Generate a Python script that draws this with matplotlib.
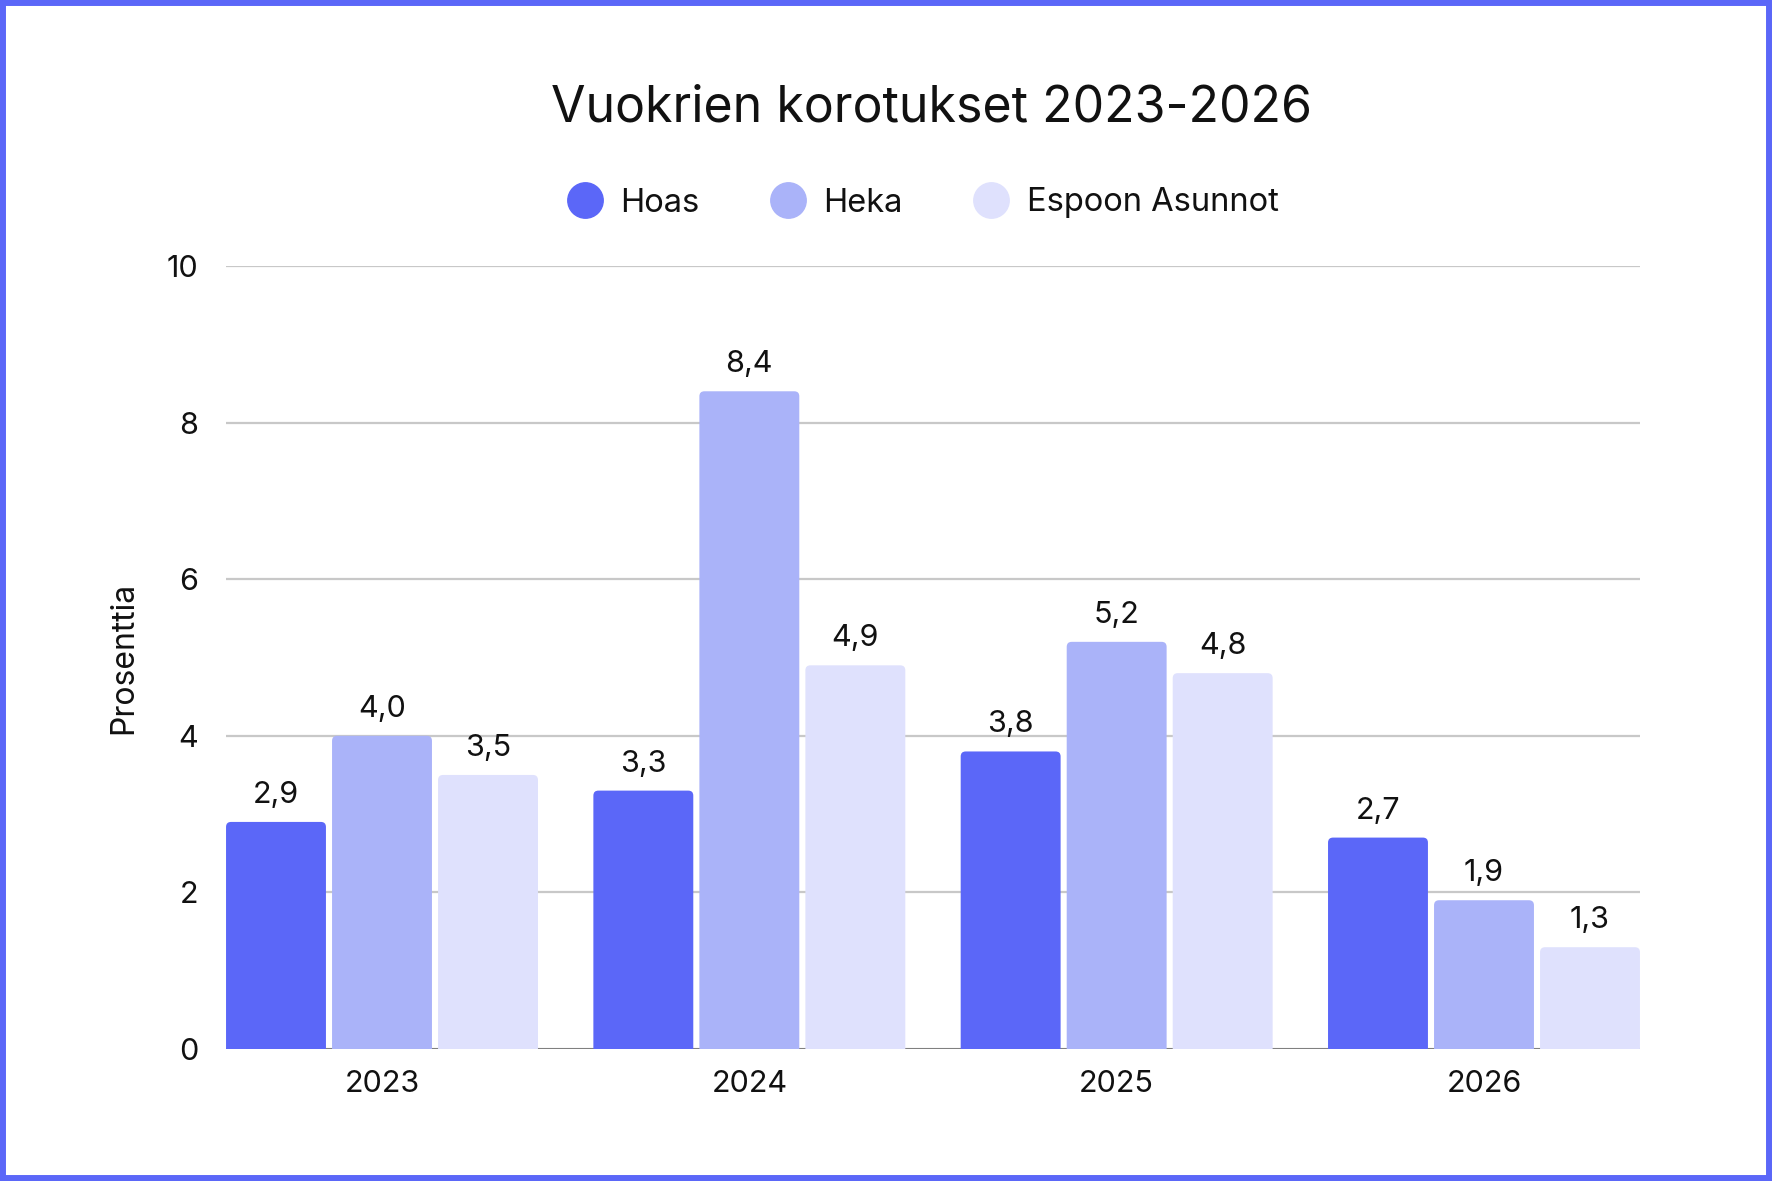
import matplotlib
matplotlib.use("Agg")
import matplotlib.pyplot as plt
from matplotlib.lines import Line2D
from matplotlib.patches import Rectangle, FancyBboxPatch
import numpy as np

plt.rcParams['font.family'] = ['Inter', 'DejaVu Sans']

# ---- data ----
years = ["2023", "2024", "2025", "2026"]
series_names = ["Hoas", "Heka", "Espoon Asunnot"]
hoas = [2.9, 3.3, 3.8, 2.7]
heka = [4.0, 8.4, 5.2, 1.9]
espoon = [3.5, 4.9, 4.8, 1.3]
colors = ["#5B67F8", "#AAB3F9", "#DFE1FD"]
y_ticks = [0, 2, 4, 6, 8, 10]
title = "Vuokrien korotukset 2023-2026"
y_label = "Prosenttia"

W, H = 1772, 1181
fig = plt.figure(figsize=(W / 100, H / 100), dpi=100)
fig.patch.set_facecolor("white")

ax_l, ax_r, ax_t, ax_b = 226, 1640, 266, 1049
ax = fig.add_axes([ax_l / W, 1 - ax_b / H, (ax_r - ax_l) / W, (ax_b - ax_t) / H])

xlim = (-0.4247, 3.4247)
ylim = (0, 10)
ax.set_xlim(*xlim)
ax.set_ylim(*ylim)

x_per_px = (xlim[1] - xlim[0]) / (ax_r - ax_l)
y_per_px = (ylim[1] - ylim[0]) / (ax_b - ax_t)
radius_px = 5

x = np.arange(len(years))
bw = 0.272
step = 0.2886
all_series = [hoas, heka, espoon]
for i, (vals, name, c) in enumerate(zip(all_series, series_names, colors)):
    bars = ax.bar(x + (i - 1) * step, vals, width=bw, color=c, label=name, zorder=3)
    for rect, v in zip(bars, vals):
        # rounded top corners: replace the rectangle with a rounded box
        rect.set_visible(False)
        ext = 20 * y_per_px
        fb = FancyBboxPatch((rect.get_x(), rect.get_y() - ext), rect.get_width(),
                            rect.get_height() + ext,
                            boxstyle=f"round,pad=0,rounding_size={radius_px * x_per_px}",
                            mutation_aspect=y_per_px / x_per_px,
                            facecolor=c, edgecolor="none", zorder=3)
        ax.add_patch(fb)
        ax.annotate(f"{v:.1f}".replace(".", ","),
                    xy=(rect.get_x() + rect.get_width() / 2, rect.get_height()),
                    xytext=(0, 13.7), textcoords="offset points",
                    ha="center", va="baseline", fontsize=22, color="#111111")

ax.set_yticks(y_ticks)
ax.set_yticklabels([str(t) for t in y_ticks])
ax.set_xticks(x)
ax.set_xticklabels(years)
ax.tick_params(axis="both", length=0, labelsize=22, colors="#111111")
ax.tick_params(axis="y", pad=20)
ax.tick_params(axis="x", pad=15)
for s in ax.spines.values():
    s.set_visible(False)
ax.yaxis.grid(True, color="#C8C8C8", linewidth=1.6, zorder=0)
ax.set_axisbelow(True)
ax.axhline(0, color="#7F7F7F", linewidth=1.4, zorder=2)

ax.set_ylabel(y_label, fontsize=23, color="#111111")
ax.yaxis.label.set_va("center")
ax.yaxis.set_label_coords((124 - ax_l) / (ax_r - ax_l), 0.5)

fig.text(932 / W, 1 - 122 / H, title, ha="center", va="baseline",
         fontsize=36, color="#111111")

handles = [Line2D([], [], marker="o", linestyle="none", markersize=25.5,
                  markerfacecolor=c, markeredgecolor=c) for c in colors]
fig.legend(handles, series_names, loc="center", bbox_to_anchor=(923 / W, 1 - 203 / H),
           ncol=3, frameon=False, fontsize=23.5, handlelength=1.05,
           handletextpad=0.55, columnspacing=2.2, borderpad=0, labelcolor="#111111")

fig.add_artist(Rectangle((0, 0), 1, 1, transform=fig.transFigure, fill=False,
                         edgecolor="#5B67F8", linewidth=8.6, clip_on=False))

fig.savefig("out.png", dpi=100, facecolor="white")
